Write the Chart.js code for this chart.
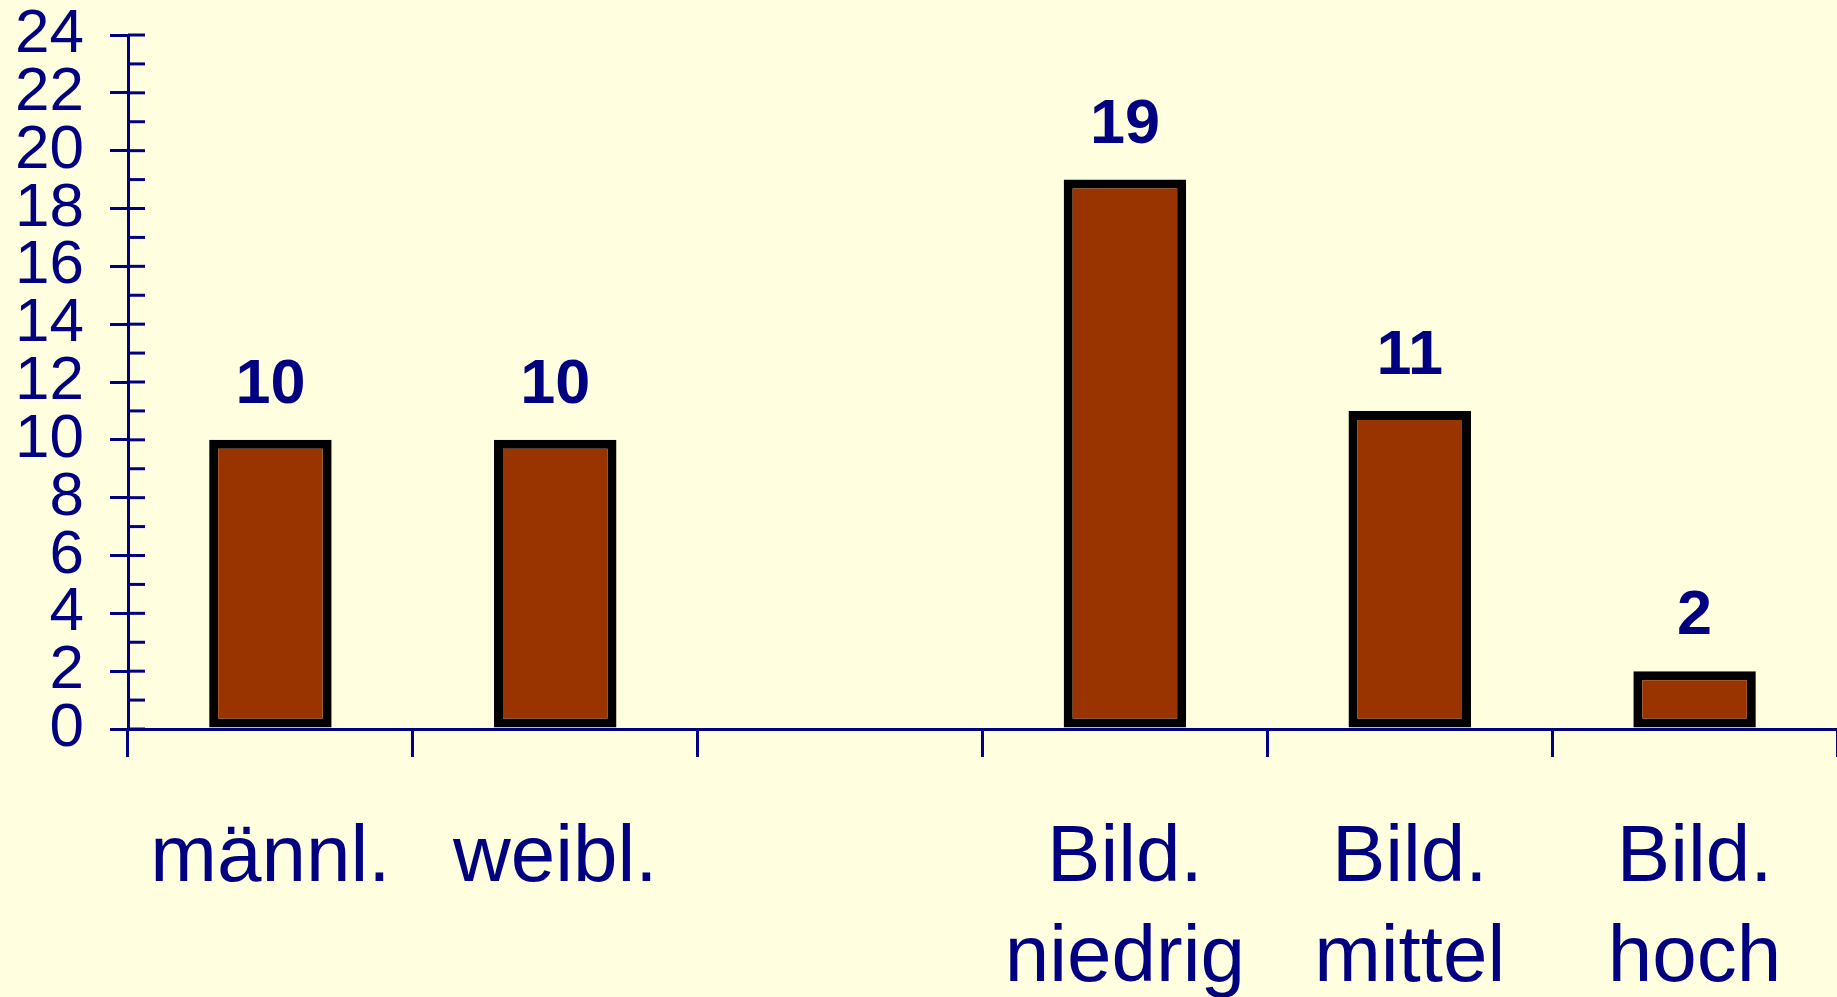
<!DOCTYPE html>
<html>
<head>
<meta charset="utf-8">
<script src="https://cdn.jsdelivr.net/npm/chart.js@4"></script>
<style>
  body { margin: 0; background: #FFFFE0; }
  #wrap { width: 1837px; height: 997px; }
</style>
</head>
<body>
<div id="wrap"><canvas id="chart"></canvas></div>
<script>
// categories and values
const categories = [['männl.'], ['weibl.'], [''], ['Bild.', 'niedrig'], ['Bild.', 'mittel'], ['Bild.', 'hoch']];
const counts = [10, 10, null, 19, 11, 2];
const yMax = 24;

const navy = '#000080';

// little inner ticks on the y axis (every unit) + numbers on top of bars
const extras = {
    id: 'extras',
    afterDatasetsDraw(chart) {
        const ctx = chart.ctx;
        const y = chart.scales.y;
        const left = chart.chartArea.left;
        ctx.save();
        ctx.strokeStyle = navy;
        ctx.lineWidth = 3;
        for (let v = 0; v <= yMax; v++) {
            const py = y.getPixelForValue(v);
            ctx.beginPath();
            ctx.moveTo(left, py);
            ctx.lineTo(left + 17, py);
            ctx.stroke();
        }
        ctx.fillStyle = navy;
        ctx.font = 'bold 63px "Liberation Sans", Arial, sans-serif';
        ctx.textAlign = 'center';
        ctx.textBaseline = 'alphabetic';
        const meta = chart.getDatasetMeta(0);
        meta.data.forEach((bar, i) => {
            if (counts[i] == null) return;
            ctx.fillText(String(counts[i]), bar.x, bar.y - 37);
        });
        ctx.restore();
    }
};

const ctx = document.getElementById('chart').getContext('2d');
const chart = new Chart(ctx, {
    type: 'bar',
    data: {
        labels: categories,
        datasets: [{
            data: counts,
            backgroundColor: '#993300',
            borderColor: '#000000',
            borderWidth: 9,
            borderSkipped: false,
            categoryPercentage: 0.43,
            barPercentage: 1
        }]
    },
    options: {
        responsive: true,
        maintainAspectRatio: false,
        animation: false,
        layout: { padding: { top: 35, left: 0, right: 0, bottom: 0 } },
        plugins: {
            legend: { display: false },
            tooltip: { enabled: false }
        },
        scales: {
            x: {
                z: 1,
                border: { color: navy, width: 3 },
                grid: {
                    drawOnChartArea: false,
                    tickLength: 28,
                    lineWidth: 3,
                    color: navy,
                    tickColor: c => c.index === categories.length ? 'rgba(0,0,0,0)' : navy
                },
                ticks: {
                    color: navy,
                    padding: 52,
                    maxRotation: 0,
                    font: { family: '"Liberation Sans", Arial, sans-serif', size: 80, lineHeight: '100px' }
                },
                afterFit: s => { s.height = 268; }
            },
            y: {
                min: 0,
                max: yMax,
                border: { color: navy, width: 3 },
                grid: {
                    drawOnChartArea: false,
                    tickLength: 18,
                    lineWidth: 3,
                    color: navy,
                    tickColor: c => c.tick && c.tick.value % 2 === 0 ? navy : 'rgba(0,0,0,0)'
                },
                ticks: {
                    stepSize: 1,
                    autoSkip: false,
                    color: navy,
                    padding: 26,
                    callback: v => v % 2 === 0 ? v : '',
                    // small lineHeight keeps the axis from pushing the plot top down
                    font: { family: '"Liberation Sans", Arial, sans-serif', size: 62, lineHeight: '10px' }
                },
                afterFit: s => { s.width = 128; }
            }
        }
    },
    plugins: [extras]
});
</script>
</body>
</html>
